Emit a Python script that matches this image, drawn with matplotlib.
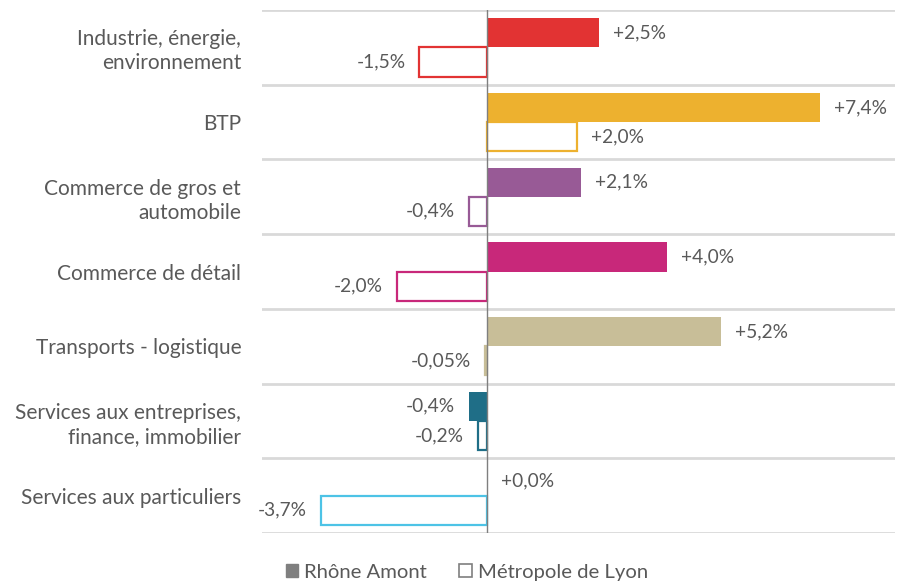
import matplotlib.pyplot as plt
from matplotlib.patches import Patch

plt.rcParams['font.family'] = ['Lato', 'DejaVu Sans']

categories = [
    "Industrie, énergie,\nenvironnement",
    "BTP",
    "Commerce de gros et\nautomobile",
    "Commerce de détail",
    "Transports - logistique",
    "Services aux entreprises,\nfinance, immobilier",
    "Services aux particuliers",
]
rhone_amont = [2.5, 7.4, 2.1, 4.0, 5.2, -0.4, 0.0]
metropole_lyon = [-1.5, 2.0, -0.4, -2.0, -0.05, -0.2, -3.7]
rhone_labels = ["+2,5%", "+7,4%", "+2,1%", "+4,0%", "+5,2%", "-0,4%", "+0,0%"]
lyon_labels = ["-1,5%", "+2,0%", "-0,4%", "-2,0%", "-0,05%", "-0,2%", "-3,7%"]
colors = ["#E23333", "#EDB12F", "#985A96", "#C8287A", "#C8BE98", "#1F6E87", "#4DC3E6"]

text_color = "#595959"

fig = plt.figure(figsize=(8.98, 5.82), dpi=100)
ax = fig.add_axes([0.2918, 0.0842, 0.7049, 0.8986])

bar_h = 0.39
off = 0.195
ys = list(range(len(categories)))

for i, y in enumerate(ys):
    ax.barh(y - off, rhone_amont[i], height=bar_h, color=colors[i], edgecolor='none', zorder=3)
    ax.barh(y + off, metropole_lyon[i], height=bar_h, facecolor='white',
            edgecolor=colors[i], linewidth=1.6, zorder=3)
    for val, lab, yy in ((rhone_amont[i], rhone_labels[i], y - off),
                         (metropole_lyon[i], lyon_labels[i], y + off)):
        pos = val >= 0
        ax.annotate(lab, xy=(val, yy), xytext=(10 if pos else -10, 0),
                    textcoords='offset points', ha='left' if pos else 'right',
                    va='center', fontsize=13.8, color=text_color)

ax.set_xlim(-5.0, 9.07)
ax.set_ylim(len(categories) - 0.5, -0.5)

# category separators
for b in range(len(categories) + 1):
    ax.axhline(b - 0.5, color='#D9D9D9', linewidth=2, zorder=1)
ax.axvline(0, color='#7F7F7F', linewidth=1, zorder=4)

ax.set_yticks(ys)
ax.set_yticklabels(categories, fontsize=15, color=text_color, linespacing=1.25)
ax.tick_params(axis='y', length=0, pad=15)
ax.set_xticks([])
for s in ax.spines.values():
    s.set_visible(False)

handles = [Patch(facecolor='#7F7F7F', edgecolor='#7F7F7F', label='Rhône Amont'),
           Patch(facecolor='white', edgecolor='#7F7F7F', linewidth=1.2, label='Métropole de Lyon')]
fig.legend(handles=handles, loc='center', bbox_to_anchor=(0.52, 0.017), ncol=2,
           frameon=False, fontsize=14.6, handlelength=0.6, handleheight=0.6,
           handletextpad=0.3, columnspacing=1.6, labelcolor=text_color)

fig.savefig("out.png", dpi=100)
